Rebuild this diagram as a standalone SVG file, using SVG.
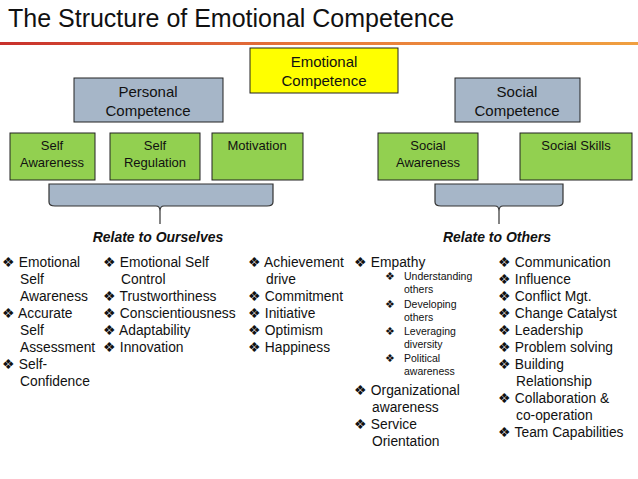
<svg xmlns="http://www.w3.org/2000/svg" width="638" height="479" viewBox="0 0 638 479">
<defs>
<linearGradient id="rl" x1="0" x2="1"><stop offset="0" stop-color="#c8302c"/><stop offset="0.5" stop-color="#e87a3a"/><stop offset="1" stop-color="#f0a040"/></linearGradient>
</defs>
<style>
text{font-family:"Liberation Sans",Arial,sans-serif;fill:#111}
.g{fill:#92d050;stroke:#222;stroke-width:1}
.b{fill:#a6b6c8;stroke:#222;stroke-width:1}
.t{font-size:13px;text-anchor:middle}
.h{font-size:15px;text-anchor:middle}
.l{font-size:13.8px}
.s{font-size:10.5px}
.r{font-size:14px;font-weight:bold;font-style:italic;text-anchor:middle}
.br{fill:#a6b6c8;stroke:#333;stroke-width:1.2}
</style>
<rect width="638" height="479" fill="#fff"/>
<text x="8" y="27" font-size="25">The Structure of Emotional Competence</text>
<rect x="0" y="42" width="638" height="3" fill="url(#rl)"/>
<g id="emotional"><rect x="250" y="48" width="148" height="45" fill="#ffff00" stroke="#222"/><text class="h" x="324" y="67">Emotional</text><text class="h" x="324" y="86">Competence</text></g>
<g id="personal"><rect class="b" x="74" y="78" width="149" height="44"/><text class="h" x="148" y="97">Personal</text><text class="h" x="148" y="116">Competence</text></g>
<g id="social"><rect class="b" x="455" y="78" width="125" height="44"/><text class="h" x="517" y="97">Social</text><text class="h" x="517" y="116">Competence</text></g>
<g id="selfaw"><rect class="g" x="10" y="133" width="85" height="47"/><text class="t" x="52" y="150">Self</text><text class="t" x="52" y="167">Awareness</text></g>
<g id="selfreg"><rect class="g" x="110" y="133" width="90" height="47"/><text class="t" x="155" y="150">Self</text><text class="t" x="155" y="167">Regulation</text></g>
<g id="motiv"><rect class="g" x="212" y="133" width="91" height="47"/><text class="t" x="257" y="150">Motivation</text></g>
<g id="socaw"><rect class="g" x="378" y="133" width="100" height="47"/><text class="t" x="428" y="150">Social</text><text class="t" x="428" y="167">Awareness</text></g>
<g id="socsk"><rect class="g" x="520" y="133" width="112" height="47"/><text class="t" x="576" y="150">Social Skills</text></g>
<g id="connectors">
<path class="br" d="M49 184 V202 Q49 206 55 206 H156 Q160 206 160 211 V224 V211 Q160 206 164 206 H267 Q273 206 273 202 V184 Z"/>
<path class="br" d="M435 184 V202 Q435 206 441 206 H495 Q499 206 499 211 V224 V211 Q499 206 503 206 H557 Q563 206 563 202 V184 Z"/>
</g>
<text class="r" x="158" y="242">Relate to Ourselves</text>
<text class="r" x="497" y="242">Relate to Others</text>
<g class="l">
<text x="2" y="267">❖ Emotional</text>
<text x="20" y="284">Self</text>
<text x="20" y="301">Awareness</text>
<text x="2" y="318">❖ Accurate</text>
<text x="20" y="335">Self</text>
<text x="20" y="352">Assessment</text>
<text x="2" y="369">❖ Self-</text>
<text x="20" y="386">Confidence</text>
<text x="103" y="267">❖ Emotional Self</text>
<text x="121" y="284">Control</text>
<text x="103" y="301">❖ Trustworthiness</text>
<text x="103" y="318">❖ Conscientiousness</text>
<text x="103" y="335">❖ Adaptability</text>
<text x="103" y="352">❖ Innovation</text>
<text x="248" y="267">❖ Achievement</text>
<text x="266" y="284">drive</text>
<text x="248" y="301">❖ Commitment</text>
<text x="248" y="318">❖ Initiative</text>
<text x="248" y="335">❖ Optimism</text>
<text x="248" y="352">❖ Happiness</text>
<text x="354" y="267">❖ Empathy</text>
<text x="354" y="395">❖ Organizational</text>
<text x="372" y="412">awareness</text>
<text x="354" y="429">❖ Service</text>
<text x="372" y="446">Orientation</text>
<text x="498" y="267">❖ Communication</text>
<text x="498" y="284">❖ Influence</text>
<text x="498" y="301">❖ Conflict Mgt.</text>
<text x="498" y="318">❖ Change Catalyst</text>
<text x="498" y="335">❖ Leadership</text>
<text x="498" y="352">❖ Problem solving</text>
<text x="498" y="369">❖ Building</text>
<text x="516" y="386">Relationship</text>
<text x="498" y="403">❖ Collaboration &amp;</text>
<text x="516" y="420">co-operation</text>
<text x="498" y="437">❖ Team Capabilities</text>
</g>
<g class="s">
<text x="385" y="280">❖</text><text x="404" y="280">Understanding</text><text x="404" y="293">others</text>
<text x="385" y="308">❖</text><text x="404" y="308">Developing</text><text x="404" y="321">others</text>
<text x="385" y="335">❖</text><text x="404" y="335">Leveraging</text><text x="404" y="348">diversity</text>
<text x="385" y="362">❖</text><text x="404" y="362">Political</text><text x="404" y="375">awareness</text>
</g>
</svg>
